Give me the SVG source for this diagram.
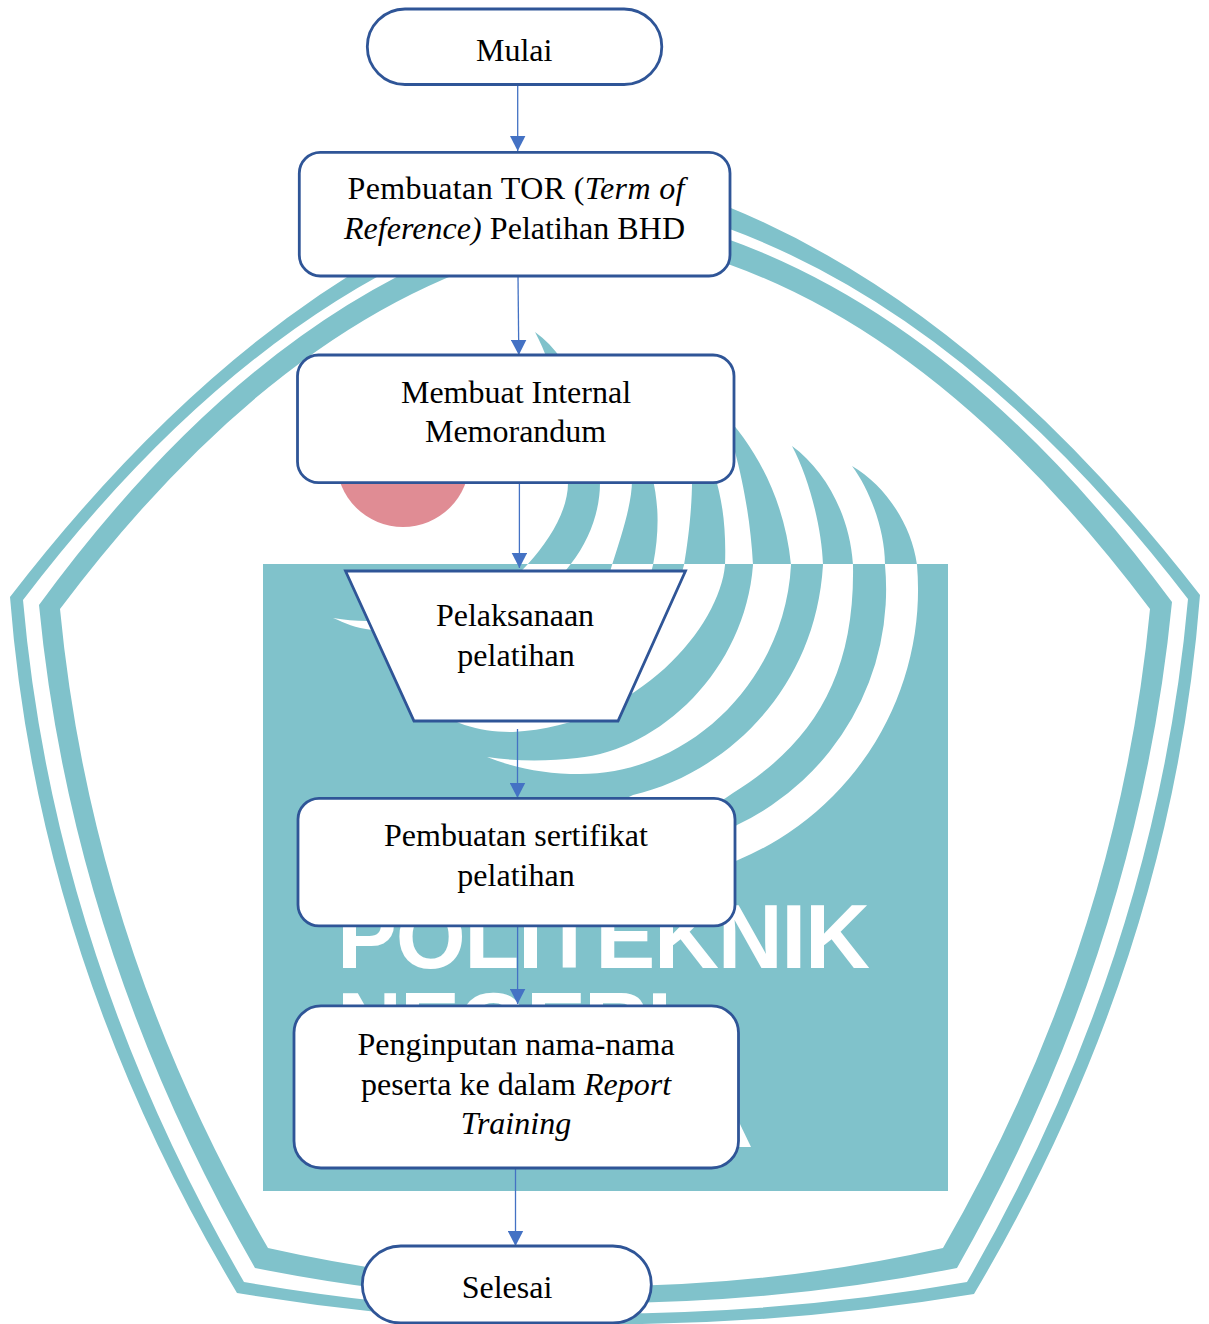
<svg xmlns="http://www.w3.org/2000/svg" width="1209" height="1324" viewBox="0 0 1209 1324">
<style>
.node{fill:#fff;stroke:#2F5597;stroke-width:2.8}
.label{font-family:"Liberation Serif","Times New Roman",serif;font-size:32px;fill:#000;text-anchor:middle}
.it{font-style:italic}
.edge{fill:none;stroke:#4472C4;stroke-width:1.3;marker-end:url(#arrow)}
.teal{fill:#80C2CB}
.wm{font-family:"Liberation Sans",Arial,sans-serif;font-weight:700;font-size:90px;fill:#fff}
</style>
<defs>
<marker id="arrow" markerUnits="userSpaceOnUse" markerWidth="16" markerHeight="16" refX="15" refY="8" orient="auto"><path d="M0,0.3 L15,8 L0,15.7 Z" fill="#4472C4"/></marker>
<clipPath id="above"><rect x="0" y="0" width="1209" height="564"/></clipPath>
<clipPath id="below"><rect x="263" y="564" width="685" height="627"/></clipPath>
<g id="crescents">
<path d="M852,466 C885,485 912,525 917,565 A293,293 0 0 1 738,860 C700,878 670,885 640,885 C670,870 705,850 737,825 A261,261 0 0 0 885,565 C885,530 870,490 852,466 Z"/>
<path d="M792,446 C825,470 850,515 853,565 C855,680 810,745 733,793 C690,825 620,840 560,835 C585,825 610,805 633,795 C720,775 815,695 823,565 C822,530 810,480 792,446 Z"/>
<path d="M720,410 C755,445 785,500 791,565 C785,680 690,774 580,774 C545,774 515,768 487,757 C520,762 550,761 577,758 C660,750 745,670 753,565 C750,505 735,440 720,410 Z"/>
<path d="M655,400 C705,425 728,485 725,565 C720,625 640,725 513,732 C480,732 450,725 425,700 C500,712 570,700 620,660 C650,635 675,600 684,565 C690,530 695,480 690,450 C682,430 670,412 655,400 Z"/>
<path d="M600,400 C645,430 668,490 653,565 C640,620 580,680 510,690 C470,695 440,685 410,670 C460,670 520,660 560,630 C590,610 605,590 612,565 C620,540 632,505 632,480 C632,450 620,420 600,400 Z"/>
<path d="M535,332 C575,360 600,430 600,483 C600,510 590,540 570,565 C545,600 470,640 372,630 C355,628 345,623 333,618 C345,620 355,621 367,621 C430,622 495,600 527,565 C550,540 568,510 568,483 C568,420 555,370 535,332 Z"/>
</g>
</defs>
<rect width="1209" height="1324" fill="#fff"/>
<g id="watermark">
<path class="teal" fill-rule="evenodd" d="M605,168 Q925,240 1200,595 Q1172,960 974,1294 Q605,1355 237,1293 Q38,960 10,597 Q285,240 605,168 Z M605,195 Q920,250 1188,599 Q1156,955 967,1282 Q605,1345 244,1282 Q54,955 23,600 Q290,250 605,195 Z"/>
<path class="teal" fill-rule="evenodd" d="M605,208 Q915,255 1172,602 Q1138,950 957,1268 Q605,1338 255,1268 Q72,950 39,605 Q295,255 605,208 Z M605,235 Q895,270 1150,609 Q1118,945 943,1248 Q605,1324 268,1248 Q92,945 60,609 Q315,270 605,235 Z"/>
<circle cx="403" cy="460.5" r="66.5" fill="#E08C94"/>
<rect class="teal" x="263" y="564" width="685" height="627"/>
<use href="#crescents" class="teal" clip-path="url(#above)"/>
<use href="#crescents" fill="#fff" clip-path="url(#below)"/>
<text class="wm" x="337" y="968" textLength="533" lengthAdjust="spacing">POLITEKNIK</text>
<text class="wm" x="337" y="1056" textLength="335" lengthAdjust="spacing">NEGERI</text>
<path d="M738,1120 L751,1147 L738,1147 Z" fill="#fff"/>
</g>
<g id="connectors">
<path class="edge" d="M517.7,84 L517.7,151"/>
<path class="edge" d="M518,276 L518.8,355"/>
<path class="edge" d="M519.4,483 L519.4,568"/>
<path class="edge" d="M517.5,729 L517.5,798"/>
<path class="edge" d="M517.6,926 L517.6,1004"/>
<path class="edge" d="M515.5,1168 L515.5,1246"/>
</g>
<g id="mulai"><rect class="node" x="367.3" y="9" width="294.5" height="75.5" rx="37.7"/><text class="label" x="514.2" y="61">Mulai</text></g>
<g id="tor"><rect class="node" x="299.3" y="152.3" width="430.7" height="123.7" rx="21"/><text class="label" x="516" y="199" textLength="337" lengthAdjust="spacing">Pembuatan TOR (<tspan class="it">Term of</tspan></text><text class="label" x="514.5" y="238.5" textLength="341" lengthAdjust="spacing"><tspan class="it">Reference)</tspan> Pelatihan BHD</text></g>
<g id="memo"><rect class="node" x="297.5" y="355" width="436.5" height="127.7" rx="21"/><text class="label" x="516" y="403">Membuat Internal</text><text class="label" x="515.6" y="442">Memorandum</text></g>
<g id="pelaksanaan"><path class="node" d="M345.5,571 L685.5,571 L618,721 L414,721 Z"/><text class="label" x="515" y="625.5">Pelaksanaan</text><text class="label" x="516" y="665.5">pelatihan</text></g>
<g id="sertifikat"><rect class="node" x="298" y="798.3" width="437" height="127.5" rx="21"/><text class="label" x="516" y="846">Pembuatan sertifikat</text><text class="label" x="516" y="886">pelatihan</text></g>
<g id="report"><rect class="node" x="294" y="1005.8" width="444.5" height="162.2" rx="27"/><text class="label" x="516" y="1055">Penginputan nama-nama</text><text class="label" x="516" y="1094.5">peserta ke dalam <tspan class="it">Report</tspan></text><text class="label" x="516" y="1134" font-style="italic">Training</text></g>
<g id="selesai"><rect class="node" x="362.3" y="1246" width="289" height="77" rx="38.5"/><text class="label" x="507" y="1298">Selesai</text></g>
</svg>
